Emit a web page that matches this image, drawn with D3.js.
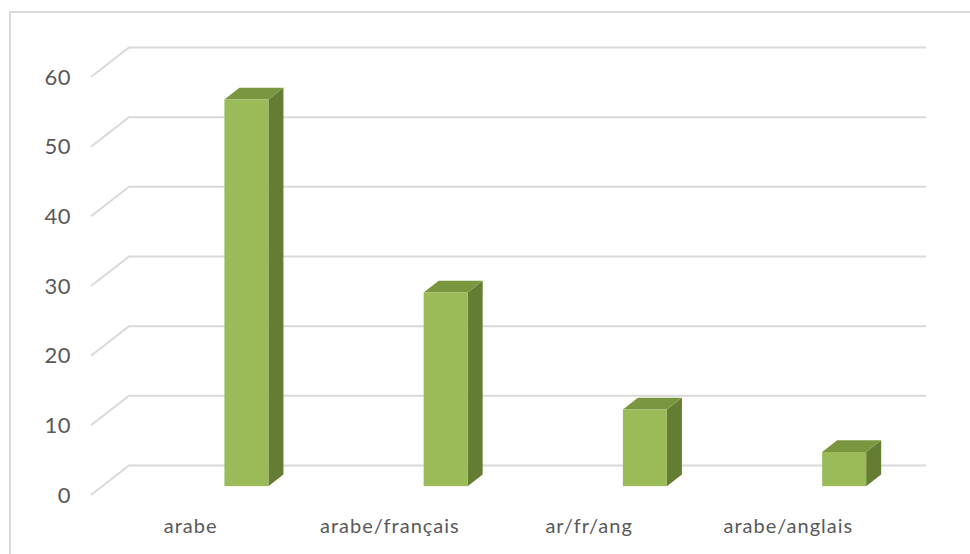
<!DOCTYPE html>
<html>
<head>
<meta charset="utf-8">
<script src="https://cdn.jsdelivr.net/npm/d3@7"></script>
<style>
  html, body { margin: 0; padding: 0; background: #fff; }
  svg { display: block; font-family: Lato, "Open Sans", sans-serif; }
</style>
</head>
<body>
<div id="chart"></div>
<script>
// chart data
const categories = ["arabe", "arabe/français", "ar/fr/ang", "arabe/anglais"];
const values = [55.5, 27.8, 11, 4.9];
const yTicks = [0, 10, 20, 30, 40, 50, 60];

const width = 970, height = 554;

// 3D floor: front edge and depth offset
const floorLeft = 91, floorRight = 888;
const depthX = 38, depthY = -29.5;
const barFront = 0.3, barBack = 0.695; // fraction of the floor depth

const svg = d3.select("#chart").append("svg")
    .attr("width", width)
    .attr("height", height);

// outer chart border
svg.append("rect")
    .attr("x", 10).attr("y", 12)
    .attr("width", width + 20).attr("height", height)
    .attr("fill", "none")
    .attr("stroke", "#d9d9d9")
    .attr("stroke-width", 2);

const y = d3.scaleLinear().domain([0, 60]).range([495, 77]);
const x = d3.scaleBand().domain(categories).range([floorLeft, floorRight]);

// gridlines (diagonal on the side wall, then flat along the back wall)
const grid = svg.append("g");
grid.selectAll("path")
    .data(yTicks)
    .enter()
    .append("path")
    .attr("d", d => {
        const yf = y(d);
        return `M${floorLeft},${yf}L${floorLeft + depthX},${yf + depthY}H${floorRight + depthX}`;
    })
    .attr("fill", "none")
    .attr("stroke", "#d9d9d9")
    .attr("stroke-width", 2);

// y tick labels
svg.append("g").selectAll("text")
    .data(yTicks)
    .enter()
    .append("text")
    .attr("x", 71)
    .attr("y", d => y(d) + 2)
    .attr("text-anchor", "end")
    .attr("dominant-baseline", "middle")
    .attr("fill", "#595959")
    .attr("font-size", 22)
    .attr("letter-spacing", 0.5)
    .text(d => d);

// bars: front face, top and right side
const barOffset = 122, barWidth = 44;
const fx = barFront * depthX, fy = barFront * depthY;
const bx = (barBack - barFront) * depthX, by = (barBack - barFront) * depthY;

const bars = svg.append("g").selectAll("g")
    .data(categories.map((c, i) => ({ cat: c, value: values[i] })))
    .enter()
    .append("g")
    .attr("transform", d => `translate(${x(d.cat) + barOffset + fx},${fy})`);

bars.append("path")
    .attr("d", d => {
        const t = y(d.value), b = y(0);
        return `M${barWidth},${t}L${barWidth + bx},${t + by}V${b + by}L${barWidth},${b}Z`;
    })
    .attr("fill", "#657d33");

bars.append("path")
    .attr("d", d => {
        const t = y(d.value);
        return `M0,${t}L${bx},${t + by}H${barWidth + bx}L${barWidth},${t}Z`;
    })
    .attr("fill", "#7a973f");

bars.append("rect")
    .attr("x", 0)
    .attr("y", d => y(d.value))
    .attr("width", barWidth)
    .attr("height", d => y(0) - y(d.value))
    .attr("fill", "#9bbb59");

// category labels
svg.append("g").selectAll("text")
    .data(categories)
    .enter()
    .append("text")
    .attr("x", d => x(d) + x.bandwidth() / 2)
    .attr("y", 533)
    .attr("text-anchor", "middle")
    .attr("fill", "#595959")
    .attr("font-size", 20)
    .attr("letter-spacing", 1)
    .text(d => d);
</script>
</body>
</html>
